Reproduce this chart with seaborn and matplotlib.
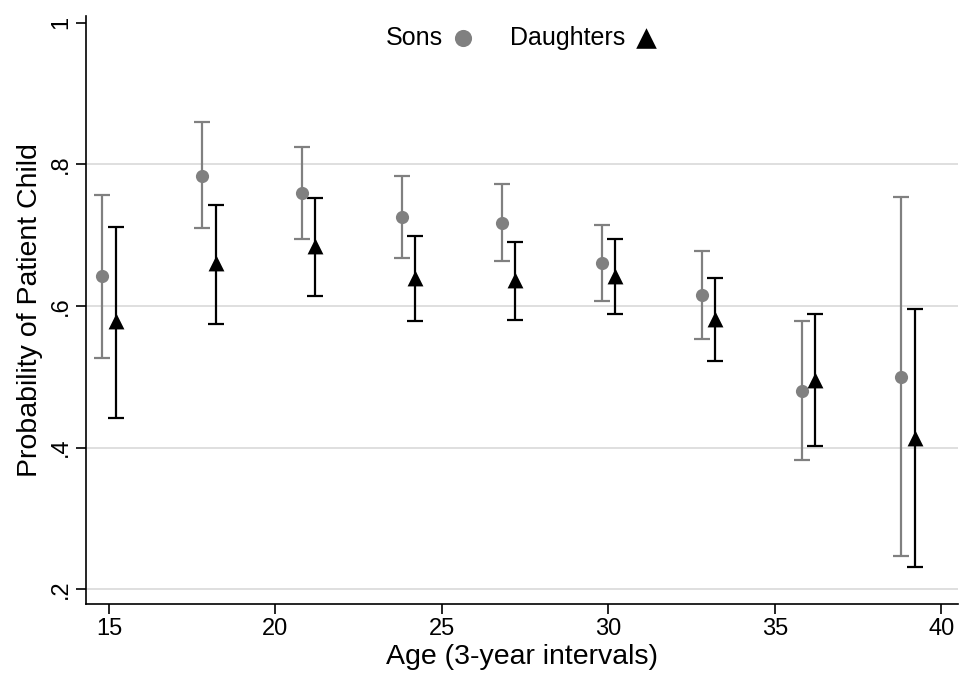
import numpy as np
import pandas as pd
import matplotlib
matplotlib.use("Agg")
import matplotlib.pyplot as plt
import seaborn as sns

# Возрастные группы (центры интервалов)
ages = [15, 18, 21, 24, 27, 30, 33, 36, 39]

# Сыновья: оценка и доверительный интервал
sons_p = [0.642, 0.784, 0.759, 0.725, 0.717, 0.661, 0.615, 0.480, 0.500]
sons_lo = [0.526, 0.710, 0.694, 0.667, 0.664, 0.607, 0.553, 0.383, 0.247]
sons_hi = [0.757, 0.860, 0.824, 0.784, 0.772, 0.715, 0.678, 0.578, 0.754]

# Дочери: оценка и доверительный интервал
daug_p = [0.578, 0.660, 0.685, 0.640, 0.637, 0.642, 0.582, 0.496, 0.413]
daug_lo = [0.441, 0.574, 0.614, 0.578, 0.580, 0.588, 0.522, 0.402, 0.231]
daug_hi = [0.712, 0.742, 0.753, 0.699, 0.690, 0.694, 0.640, 0.588, 0.596]

y_ticks = [0.2, 0.4, 0.6, 0.8, 1.0]
y_labels = [".2", ".4", ".6", ".8", "1"]
x_ticks = [15, 20, 25, 30, 35, 40]

sns.set_style("white")
plt.rcParams["font.family"] = ["Liberation Sans", "DejaVu Sans"]
plt.rcParams["text.color"] = "black"
plt.rcParams["axes.labelcolor"] = "black"

df = pd.concat([
    pd.DataFrame({"age": np.array(ages) - 0.2, "p": sons_p, "lo": sons_lo,
                  "hi": sons_hi, "group": "Sons"}),
    pd.DataFrame({"age": np.array(ages) + 0.2, "p": daug_p, "lo": daug_lo,
                  "hi": daug_hi, "group": "Daughters"}),
])

colors = {"Sons": "#808080", "Daughters": "black"}
markers = {"Sons": "o", "Daughters": "^"}
sizes = {"Sons": 90, "Daughters": 130}

fig = plt.figure(figsize=(9.6, 6.81), dpi=100)
ax = fig.add_axes([0.0896, 0.1131, 0.9084, 0.8634])

for g, sub in df.groupby("group", sort=False):
    ax.errorbar(sub["age"], sub["p"],
                yerr=[sub["p"] - sub["lo"], sub["hi"] - sub["p"]],
                fmt="none", ecolor=colors[g], elinewidth=1.6,
                capsize=5.5, capthick=1.6, zorder=2)
    sns.scatterplot(x=sub["age"], y=sub["p"], color=colors[g],
                    marker=markers[g], s=sizes[g], edgecolor=colors[g],
                    linewidth=0, label=g, ax=ax, zorder=3)

ax.set_xlim(14.31, 40.5)
ax.set_ylim(0.179, 1.0095)
ax.set_xticks(x_ticks)
ax.set_yticks(y_ticks)
ax.set_yticklabels(y_labels, rotation=90, va="center")
ax.tick_params(axis="both", labelsize=17, length=7, width=1.2, pad=3,
               direction="out", color="black", labelcolor="black",
               bottom=True, left=True)
ax.grid(axis="y", color="#dcdcdc", linewidth=1.3)
ax.yaxis.get_gridlines()[-1].set_visible(False)
ax.set_axisbelow(True)
for s in ["top", "right"]:
    ax.spines[s].set_visible(False)
for s in ["left", "bottom"]:
    ax.spines[s].set_color("black")
    ax.spines[s].set_linewidth(1.2)

ax.set_xlabel("Age (3-year intervals)", fontsize=20.5, labelpad=3)
ax.set_ylabel("Probability of Patient Child", fontsize=20.5, labelpad=5)

ax.legend(loc="upper center", bbox_to_anchor=(0.5, 1.0), ncol=2,
          frameon=False, markerfirst=False, fontsize=18,
          handletextpad=0.3, handlelength=1.0, columnspacing=1.4,
          borderaxespad=0, markerscale=1.3)

plt.savefig("out.png", dpi=100)
